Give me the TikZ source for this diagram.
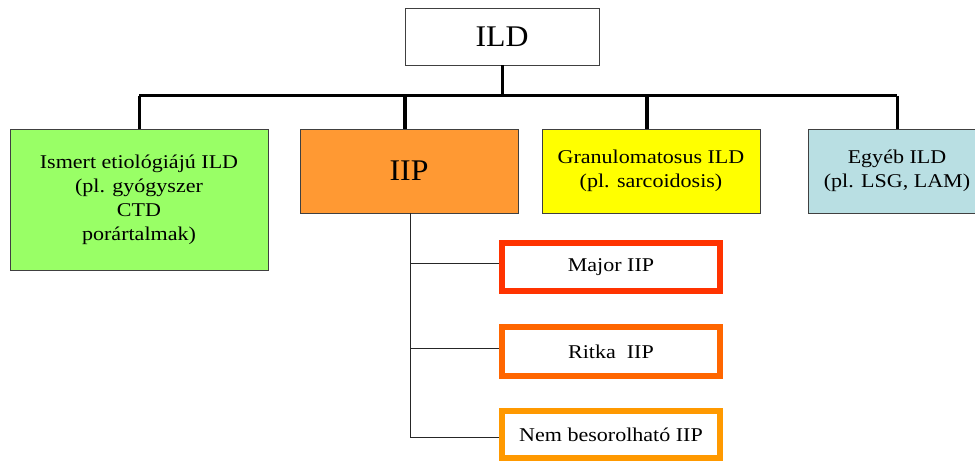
\documentclass[tikz,border=0pt]{standalone}
\usepackage{fontspec}
\setmainfont{Liberation Serif}[FakeStretch=1.06]
\newfontfamily\smallf{Liberation Serif}[FakeStretch=1.13]
\definecolor{boxgray}{HTML}{404040}
\definecolor{cgreen}{HTML}{99FF66}
\definecolor{corange}{HTML}{FF9933}
\definecolor{cyellow}{HTML}{FFFF00}
\definecolor{cblue}{HTML}{B9DFE3}
\definecolor{cmajor}{HTML}{FF3300}
\definecolor{critka}{HTML}{FF6600}
\definecolor{cnem}{HTML}{FF9900}
\tikzset{
  topbox/.style={draw=boxgray, line width=0.9pt, rectangle, inner sep=0pt, align=center},
  bigtext/.style={font=\fontsize{30}{36}\selectfont},
  smalltext/.style={font=\smallf\fontsize{19.5}{24}\selectfont},
  childbox/.style={draw=#1, line width=6pt, fill=white, rectangle, inner sep=0pt, minimum width=218pt, align=center, font=\smallf\fontsize{19.5}{24}\selectfont},
  bus/.style={line width=3pt},
  busthick/.style={line width=4pt},
  thinline/.style={line width=0.9pt, draw=black!85}
}
\begin{document}
\begin{tikzpicture}[x=1pt,y=-1pt]
\useasboundingbox (0,0) rectangle (975,462);
\clip (0,0) rectangle (975,462);
\fill[white] (0,0) rectangle (975,462);
% top
\node[topbox, bigtext, fill=white, minimum width=194pt, minimum height=57pt] (ild) at (502,36.5) {ILD};
% level 2
\node[topbox, smalltext, fill=cgreen, minimum width=258pt, minimum height=141pt] (known) at (139,199.5)
  {Ismert etiológiájú ILD\\(pl. gyógyszer\\CTD\\porártalmak)};
\node[topbox, bigtext, fill=corange, minimum width=218pt, minimum height=84pt] (iip) at (409,171) {IIP};
\node[topbox, smalltext, fill=cyellow, minimum width=218pt, minimum height=84pt] (gran) at (651,171)
  {Granulomatosus ILD\\(pl. sarcoidosis)};
\node[topbox, smalltext, fill=cblue, minimum width=178pt, minimum height=84pt] (other) at (897,171)
  {Egyéb ILD\\(pl. LSG, LAM)};
% bus
\coordinate (busL) at (139,96);
\coordinate (busR) at (897,96);
\coordinate (busM) at (502,96);
\coordinate (busI) at (405,96);
\coordinate (busG) at (647,96);
\draw[bus] (busL) -- (busR);
\draw[bus] (ild.south) -- (busM);
\draw[bus] (busL) -- (known.north);
\draw[bus] (busR) -- (other.north);
\draw[busthick] (busI) -- (busI |- iip.north);
\draw[busthick] (busG) -- (busG |- gran.north);
% children
\node[childbox=cmajor, minimum height=48pt] (major) at (611,267) {Major IIP};
\node[childbox=critka, minimum height=49pt] (ritka) at (611,351.5) {Ritka\ \ IIP};
\node[childbox=cnem, minimum height=47pt] (nem) at (611,434.5) {Nem besorolható IIP};
\coordinate (vtop) at (410,213);
\coordinate (v1) at (410,263);
\coordinate (v2) at (410,348);
\coordinate (v3) at (410,437);
\draw[thinline] (vtop) -- (v3);
\draw[thinline] (v1) -- (v1 -| major.west);
\draw[thinline] (v2) -- (v2 -| ritka.west);
\draw[thinline] (v3) -- (v3 -| nem.west);
\end{tikzpicture}
\end{document}
